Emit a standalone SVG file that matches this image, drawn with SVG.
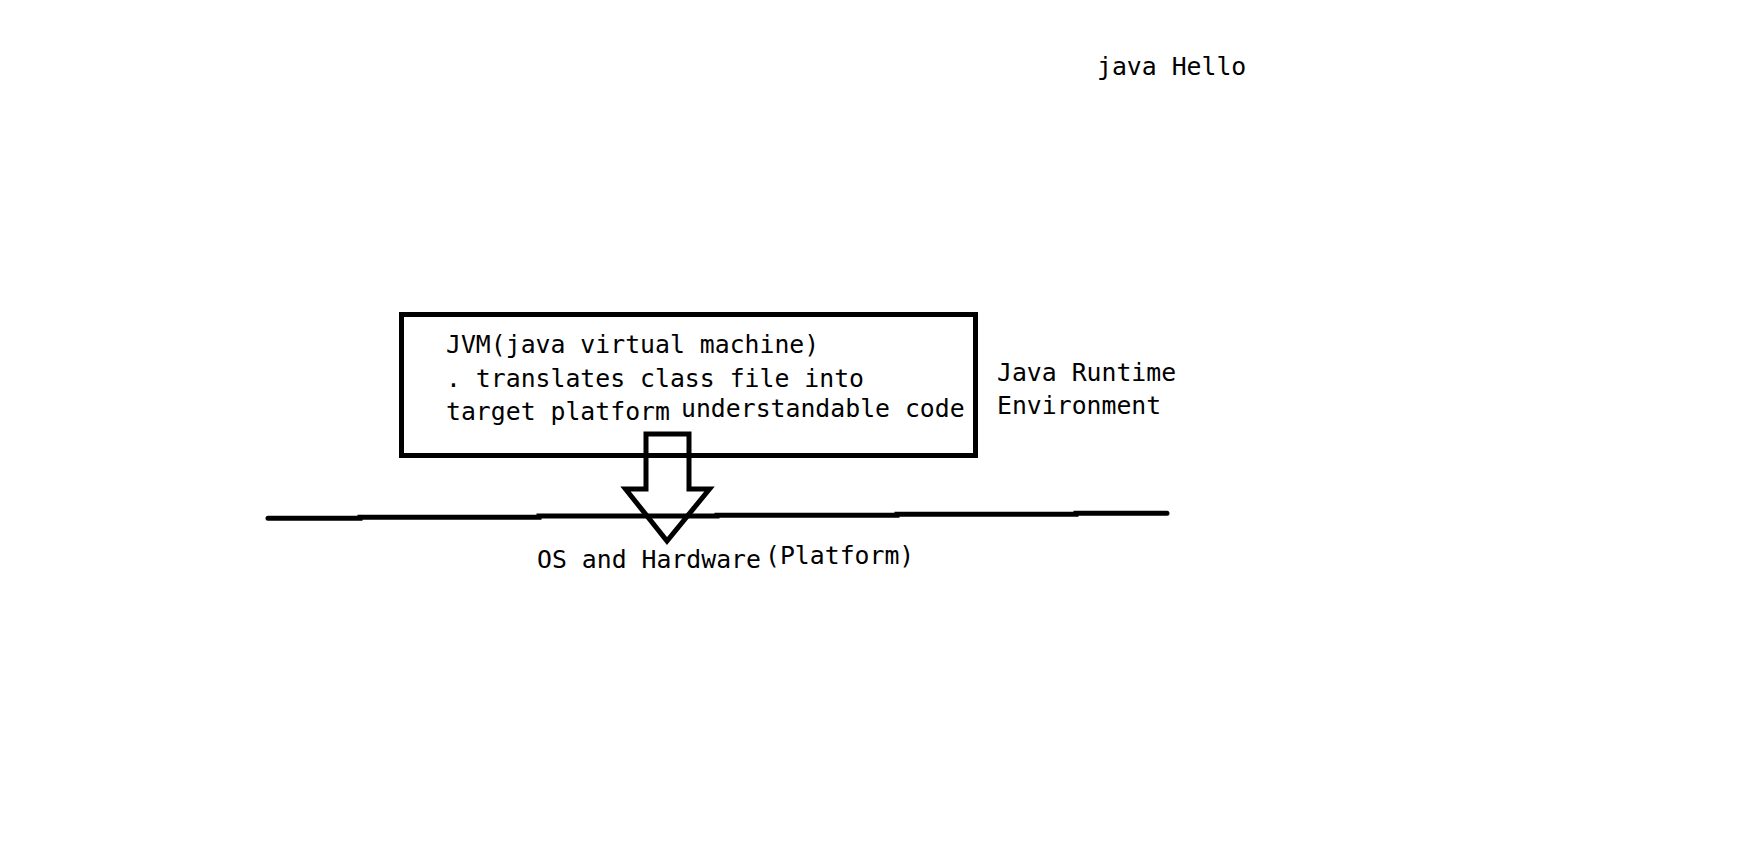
<svg xmlns="http://www.w3.org/2000/svg" width="1743" height="851" viewBox="0 0 1743 851">
<style>
  .t { font-family: "DejaVu Sans Mono", "Liberation Mono", monospace; font-size: 24.8px; fill: #000; }
  .s { fill: none; stroke: #000; stroke-width: 5; }
</style>
<rect x="0" y="0" width="1743" height="851" fill="#fff"/>
<g id="cmd">
  <text class="t" x="1097" y="75">java Hello</text>
</g>
<g id="jvm">
  <rect class="s" x="401.5" y="314.5" width="574" height="141"/>
  <text class="t" x="446" y="353">JVM(java virtual machine)</text>
  <text class="t" x="446" y="387">. translates class file into</text>
  <text class="t" x="446" y="420">target platform</text>
  <text class="t" x="681" y="417">understandable code</text>
</g>
<g id="jre">
  <text class="t" x="997" y="381">Java Runtime</text>
  <text class="t" x="997" y="414">Environment</text>
</g>
<g id="platform">
  <polyline class="s" stroke-linecap="round" points="268,518.3 360,518.3 360,517.3 539,517.3 539,516 717,516 717,515.3 897,515.3 897,514.3 1076,514.3 1076,513.3 1167,513.3"/>
  <text class="t" x="537" y="568">OS and Hardware</text>
  <text class="t" x="765" y="564">(Platform)</text>
</g>
<g id="connectors">
  <polygon class="s" stroke-linejoin="miter" points="646,434 689,434 689,489 709.5,489 667,541 625.5,489 646,489"/>
</g>
</svg>
